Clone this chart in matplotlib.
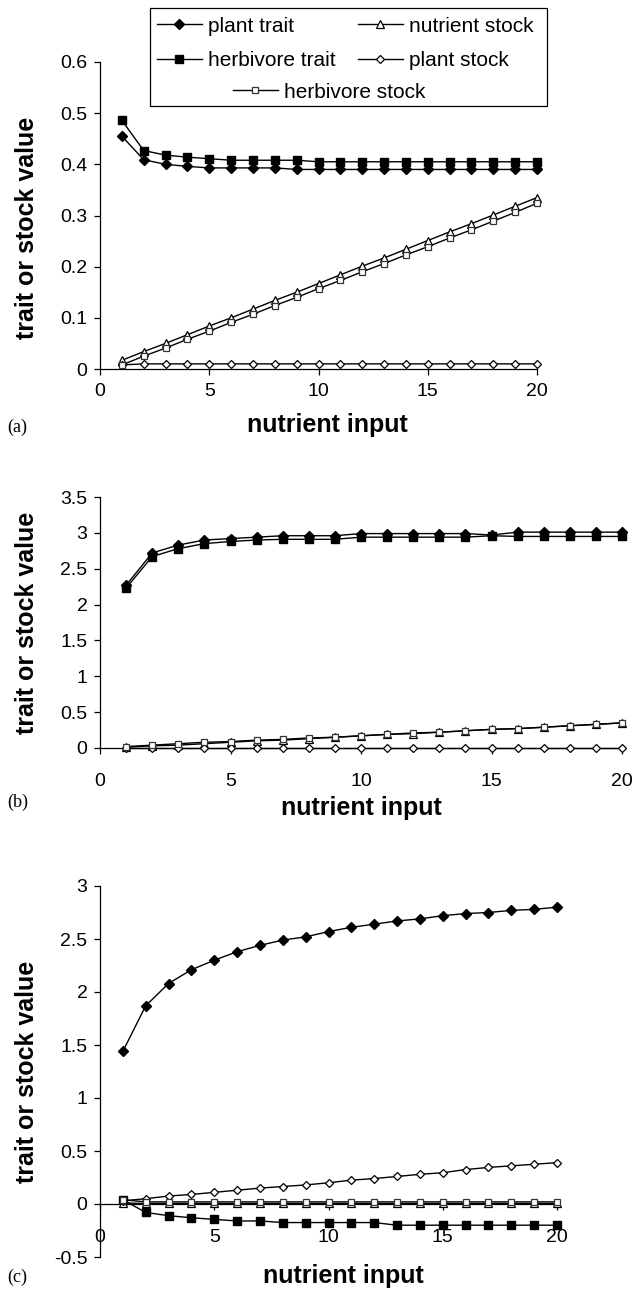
import matplotlib.pyplot as plt
from matplotlib.lines import Line2D
from matplotlib.patches import Rectangle

plt.rcParams['font.family'] = ['Liberation Sans', 'DejaVu Sans']

### Data ###

nutrient_input = list(range(1, 21))
series_names = ['plant trait', 'herbivore trait', 'nutrient stock', 'plant stock', 'herbivore stock']

# panel (a)
a_plant_trait = [0.455, 0.409, 0.400, 0.396, 0.393, 0.393, 0.393, 0.393, 0.390, 0.390,
                 0.390, 0.390, 0.390, 0.390, 0.390, 0.390, 0.390, 0.390, 0.390, 0.390]
a_herbivore_trait = [0.486, 0.427, 0.418, 0.414, 0.411, 0.408, 0.408, 0.408, 0.408, 0.405,
                     0.405, 0.405, 0.405, 0.405, 0.405, 0.405, 0.405, 0.405, 0.405, 0.405]
a_nutrient_stock = [0.017, 0.034, 0.050, 0.067, 0.084, 0.100, 0.117, 0.134, 0.150, 0.167,
                    0.184, 0.201, 0.217, 0.234, 0.251, 0.268, 0.284, 0.301, 0.318, 0.335]
a_plant_stock = [0.008, 0.010, 0.010, 0.010, 0.010, 0.010, 0.010, 0.010, 0.010, 0.010,
                 0.010, 0.010, 0.010, 0.010, 0.010, 0.010, 0.010, 0.010, 0.010, 0.010]
a_herbivore_stock = [0.008, 0.025, 0.041, 0.058, 0.074, 0.091, 0.107, 0.124, 0.140, 0.157,
                     0.173, 0.190, 0.206, 0.223, 0.239, 0.256, 0.272, 0.289, 0.306, 0.324]

# panel (b)
b_plant_trait = [2.27, 2.72, 2.83, 2.90, 2.92, 2.94, 2.96, 2.96, 2.96, 2.99,
                 2.99, 2.99, 2.99, 2.99, 2.97, 3.01, 3.01, 3.01, 3.01, 3.01]
b_herbivore_trait = [2.23, 2.67, 2.78, 2.85, 2.88, 2.90, 2.91, 2.91, 2.91, 2.94,
                     2.94, 2.94, 2.94, 2.94, 2.96, 2.95, 2.95, 2.95, 2.95, 2.95]
b_nutrient_stock = [0.01, 0.03, 0.04, 0.06, 0.08, 0.10, 0.11, 0.13, 0.15, 0.17,
                    0.19, 0.20, 0.22, 0.24, 0.26, 0.27, 0.29, 0.31, 0.33, 0.35]
b_plant_stock = [0.002, 0.002, 0.002, 0.002, 0.002, 0.002, 0.002, 0.002, 0.002, 0.002,
                 0.002, 0.002, 0.002, 0.002, 0.002, 0.002, 0.002, 0.002, 0.002, 0.002]
b_herbivore_stock = [0.02, 0.04, 0.06, 0.08, 0.09, 0.11, 0.12, 0.14, 0.15, 0.17,
                     0.19, 0.21, 0.22, 0.24, 0.26, 0.27, 0.29, 0.31, 0.33, 0.35]

# panel (c)
c_plant_trait = [1.44, 1.87, 2.08, 2.21, 2.30, 2.38, 2.44, 2.49, 2.52, 2.57,
                 2.61, 2.64, 2.67, 2.69, 2.72, 2.74, 2.75, 2.77, 2.78, 2.80]
c_herbivore_trait = [0.04, -0.08, -0.11, -0.13, -0.145, -0.16, -0.16, -0.175, -0.175, -0.175,
                     -0.175, -0.175, -0.20, -0.20, -0.20, -0.20, -0.20, -0.20, -0.20, -0.20]
c_nutrient_stock = [0.01, 0.005, 0.005, 0.005, 0.005, 0.005, 0.005, 0.005, 0.005, 0.005,
                    0.005, 0.005, 0.005, 0.005, 0.005, 0.005, 0.005, 0.005, 0.005, 0.005]
c_plant_stock = [0.03, 0.05, 0.075, 0.09, 0.11, 0.13, 0.15, 0.165, 0.18, 0.20,
                 0.225, 0.24, 0.26, 0.28, 0.295, 0.325, 0.345, 0.36, 0.375, 0.39]
c_herbivore_stock = [0.04, 0.02, 0.02, 0.02, 0.02, 0.02, 0.02, 0.02, 0.02, 0.02,
                     0.02, 0.02, 0.02, 0.02, 0.02, 0.02, 0.02, 0.02, 0.02, 0.02]

panel_a = [a_plant_trait, a_herbivore_trait, a_nutrient_stock, a_plant_stock, a_herbivore_stock]
panel_b = [b_plant_trait, b_herbivore_trait, b_nutrient_stock, b_plant_stock, b_herbivore_stock]
panel_c = [c_plant_trait, c_herbivore_trait, c_nutrient_stock, c_plant_stock, c_herbivore_stock]

### Styles ###

styles = {
    'plant trait':     dict(marker='D', ms=4.8, mfc='black', mec='black'),
    'herbivore trait': dict(marker='s', ms=6.0, mfc='black', mec='black'),
    'nutrient stock':  dict(marker='^', ms=6.0, mfc='white', mec='black', mew=0.9),
    'plant stock':     dict(marker='D', ms=4.2, mfc='white', mec='black', mew=0.9),
    'herbivore stock': dict(marker='s', ms=5.0, mfc='white', mec='#333333', mew=0.9),
}


def plot_panel(ax, series, ylim, yticks, ylabel_xy, xlabel_xy, xpad):
    """Draw one panel in Excel-like style."""
    for name, vals in zip(series_names, series):
        ax.plot(nutrient_input, vals, color='black', lw=1.0, clip_on=False,
                zorder=3, **styles[name])
    ax.set_xlim(0, 20)
    ax.set_ylim(*ylim)
    ax.set_xticks([0, 5, 10, 15, 20])
    ax.set_yticks(yticks)
    ax.set_yticklabels([f'{t:g}' for t in yticks])
    for side in ['top', 'right']:
        ax.spines[side].set_visible(False)
    for side in ['left', 'bottom']:
        ax.spines[side].set_linewidth(0.9)
    ax.tick_params(axis='y', direction='out', length=4, width=0.9, labelsize=14, pad=5)
    ax.tick_params(axis='x', direction='out', length=4, width=0.9, labelsize=14, pad=xpad)
    ax.set_ylabel('trait or stock value', fontsize=18, fontweight='bold')
    ax.yaxis.set_label_coords(*ylabel_xy)
    ax.set_xlabel('nutrient input', fontsize=18, fontweight='bold', va='center')
    ax.xaxis.set_label_coords(*xlabel_xy)


W, H = 637, 1298
fig = plt.figure(figsize=(W / 100, H / 100), dpi=100)

ax_a = fig.add_axes([100 / W, 1 - 369 / H, 437 / W, 307 / H])
ax_b = fig.add_axes([100 / W, 1 - 748 / H, 522 / W, 251 / H])
ax_c = fig.add_axes([100 / W, 1 - 1257 / H, 457 / W, 371 / H])

plot_panel(ax_a, panel_a, (0, 0.6), [0, 0.1, 0.2, 0.3, 0.4, 0.5, 0.6],
           (-0.14, 0.46), (0.52, -0.183), 6)
plot_panel(ax_b, panel_b, (0, 3.5), [0, 0.5, 1, 1.5, 2, 2.5, 3, 3.5],
           (-0.117, 0.5), (0.5, -0.24), 14)
plot_panel(ax_c, panel_c, (-0.5, 3), [-0.5, 0, 0.5, 1, 1.5, 2, 2.5, 3],
           (-0.133, 0.5), (0.532, -0.05), 14)
ax_c.spines['bottom'].set_position(('data', 0))

# panel letters
for label, ypix in [('(a)', 427), ('(b)', 802), ('(c)', 1277)]:
    fig.text(7 / W, 1 - ypix / H, label, fontsize=13, va='center', ha='left',
             family=['Liberation Serif', 'DejaVu Serif'])

# legend: framed box with each entry placed at its own spot
fig.add_artist(Rectangle((150 / W, 1 - 106 / H), 397 / W, 98 / H, transform=fig.transFigure,
                         facecolor='white', edgecolor='black', lw=0.9, zorder=4))
legend_spots = {
    'plant trait': (157, 26),
    'nutrient stock': (358, 26),
    'herbivore trait': (157, 61),
    'plant stock': (358, 61),
    'herbivore stock': (233, 92),
}
for name, (lx, ly) in legend_spots.items():
    handle = Line2D([], [], color='black', lw=1.0, **styles[name])
    fig.legend([handle], [name], frameon=False, fontsize=15, loc='center left',
               bbox_to_anchor=(lx / W, 1 - ly / H), borderpad=0, borderaxespad=0,
               handlelength=2.15, handletextpad=0.3).set_zorder(5)

fig.savefig('out.png', dpi=100)
